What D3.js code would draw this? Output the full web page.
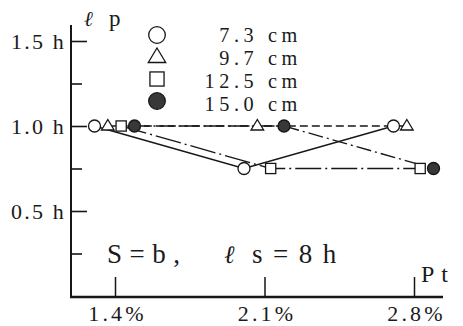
<!DOCTYPE html>
<html>
<head>
<meta charset="utf-8">
<script src="https://cdn.jsdelivr.net/npm/d3@7"></script>
<style>
  html, body { margin: 0; padding: 0; background: #fff; }
  svg { display: block; }
  text { font-family: "Liberation Serif", "DejaVu Serif", serif; fill: #1a1a1a; }
</style>
</head>
<body>
<svg id="chart" width="463" height="326"></svg>
<script>
// Pt (tensile reinforcement ratio, %) on x, lp (plastic hinge length, ×h) on y
const ptValues = [1.4, 2.1, 2.8];
const xTickLabels = ["1.4%", "2.1%", "2.8%"];
const seriesNames = ["7.3 cm", "9.7 cm", "12.5 cm", "15.0 cm"];
const lp73 = [1.0, 0.75, 1.0];
const lp97 = [1.0, 1.0, 1.0];
const lp125 = [1.0, 0.75, 0.75];
const lp150 = [1.0, 1.0, 0.75];
const yMajorTicks = [0.5, 1.0, 1.5];
const yMajorLabels = ["0.5 h", "1.0 h", "1.5 h"];
const yMinorTicks = [0.25, 0.75, 1.25];

const seriesValues = [lp73, lp97, lp125, lp150];
const markerKinds = ["circle", "triangle", "square", "disc"];
const dashes = [null, "8,4", "26,4,2,4", "15,4,2,4"];
const ink = "#161616";
const serif = "'Liberation Serif', 'DejaVu Serif', serif";

const svg = d3.select("#chart");

const x = d3.scaleLinear().domain([1.4, 2.8]).range([115, 414]);
const y = d3.scaleLinear().domain([0, 1.5]).range([296, 41]);
// small sideways spread so markers at the same Pt don't overlap
const spread = d3.scalePoint().domain(seriesNames).range([-20.5, 19.5]);

const axisX0 = 71, axisX1 = 443, axisY = y(0) + 1, axisTop = 25;

// axis lines
svg.append("line").attr("x1", axisX0).attr("x2", axisX0)
  .attr("y1", axisTop).attr("y2", axisY + 1)
  .attr("stroke", ink).attr("stroke-width", 2);
svg.append("line").attr("x1", axisX0 - 1).attr("x2", axisX1)
  .attr("y1", axisY).attr("y2", axisY)
  .attr("stroke", ink).attr("stroke-width", 2.6);

// y axis: major ticks with labels, minor ticks inward
const yMajor = d3.axisLeft(y).tickValues(yMajorTicks)
  .tickFormat((d, i) => yMajorLabels[i])
  .tickSizeInner(-16).tickSizeOuter(0).tickPadding(6);
const gyMaj = svg.append("g").attr("transform", `translate(${axisX0},0)`).call(yMajor);
gyMaj.attr("font-family", null);
gyMaj.select(".domain").remove();
gyMaj.selectAll(".tick line").attr("stroke", ink).attr("stroke-width", 1.6);
gyMaj.selectAll(".tick text")
  .attr("font-size", 22).attr("letter-spacing", 2.2).attr("fill", ink)
  .attr("dx", 1).attr("dy", "0.36em")
  .style("font-family", serif);

const yMinor = d3.axisLeft(y).tickValues(yMinorTicks)
  .tickFormat("").tickSizeInner(-11).tickSizeOuter(0);
const gyMin = svg.append("g").attr("transform", `translate(${axisX0},0)`).call(yMinor);
gyMin.select(".domain").remove();
gyMin.selectAll(".tick line").attr("stroke", ink).attr("stroke-width", 1.6);

// x axis: ticks pointing up, labels below
const xAxis = d3.axisBottom(x).tickValues(ptValues)
  .tickFormat((d, i) => xTickLabels[i])
  .tickSizeInner(-20).tickSizeOuter(0).tickPadding(7);
const gx = svg.append("g").attr("transform", `translate(0,${axisY})`).call(xAxis);
gx.attr("font-family", null);
gx.select(".domain").remove();
gx.selectAll(".tick line").attr("stroke", ink).attr("stroke-width", 1.5);
gx.selectAll(".tick text")
  .attr("font-size", 22).attr("letter-spacing", 3.2).attr("fill", ink)
  .attr("dx", 2).attr("dy", "0.78em")
  .style("font-family", serif);

// series lines
const line = d3.line()
  .x(d => x(d.pt) + spread(d.name))
  .y(d => y(d.v));

seriesNames.forEach((name, s) => {
  const pts = ptValues.map((pt, i) => ({ pt, v: seriesValues[s][i], name }));
  svg.append("path").datum(pts)
    .attr("d", line)
    .attr("fill", "none")
    .attr("stroke", ink)
    .attr("stroke-width", 1.35)
    .attr("stroke-dasharray", dashes[s]);
});

// marker drawing
function marker(g, kind, cx, cy, size) {
  if (kind === "circle" || kind === "disc") {
    g.append("circle").attr("cx", cx).attr("cy", cy).attr("r", size)
      .attr("fill", kind === "disc" ? "#383838" : "#fff")
      .attr("stroke", ink).attr("stroke-width", 1.3);
  } else if (kind === "triangle") {
    const h = size * 1.75, w = size * 2.1;
    g.append("path")
      .attr("d", `M${cx},${cy - h * 0.62} L${cx + w / 2},${cy + h * 0.38} L${cx - w / 2},${cy + h * 0.38} Z`)
      .attr("fill", "#fff").attr("stroke", ink).attr("stroke-width", 1.3);
  } else {
    const a = size * 1.7;
    g.append("rect").attr("x", cx - a / 2).attr("y", cy - a / 2)
      .attr("width", a).attr("height", a)
      .attr("fill", "#fff").attr("stroke", ink).attr("stroke-width", 1.3);
  }
}

const gm = svg.append("g");
seriesNames.forEach((name, s) => {
  ptValues.forEach((pt, i) => {
    marker(gm, markerKinds[s], x(pt) + spread(name), y(seriesValues[s][i]), 6);
  });
});

// legend
const legendRows = d3.scaleLinear().domain([0, 3]).range([35, 101]);
const gl = svg.append("g");
seriesNames.forEach((name, s) => {
  const cy = legendRows(s);
  marker(gl, markerKinds[s], 157, cy, 8.3);
});
const legendText = d3.scaleLinear().domain([0, 3]).range([42, 111]);
seriesNames.forEach((name, s) => {
  gl.append("text").attr("x", 302).attr("y", legendText(s))
    .attr("text-anchor", "end")
    .attr("font-size", 20.3).attr("letter-spacing", 4.6)
    .text(name);
});

// axis titles
svg.append("text").attr("x", 84).attr("y", 26)
  .attr("font-size", 21).attr("font-style", "italic")
  .style("font-family", "'DejaVu Serif', serif").text("ℓ");
svg.append("text").attr("x", 109).attr("y", 26)
  .attr("font-size", 23).text("p");

svg.append("text").attr("x", 421).attr("y", 282)
  .attr("font-size", 24).attr("letter-spacing", 7).text("Pt");

// test condition annotation
svg.append("text").attr("x", 107).attr("y", 263)
  .attr("font-size", 27).attr("letter-spacing", 7.5).text("S=b,");
svg.append("text").attr("x", 224).attr("y", 263)
  .attr("font-size", 25).attr("font-style", "italic")
  .style("font-family", "'DejaVu Serif', serif").text("ℓ");
svg.append("text").attr("x", 252).attr("y", 263)
  .attr("font-size", 27).attr("letter-spacing", 10.5).text("s=8h");
</script>
</body>
</html>
